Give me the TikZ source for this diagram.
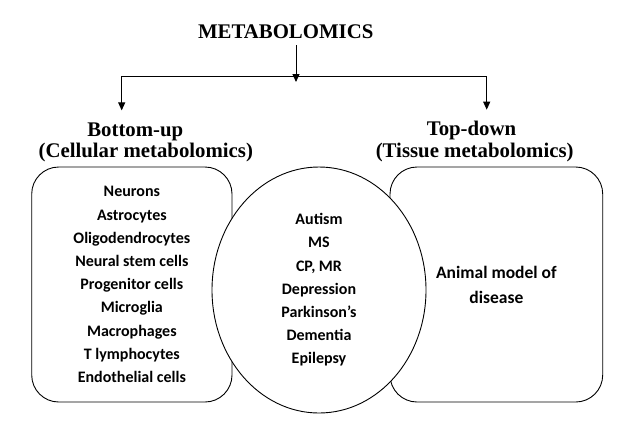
\documentclass[tikz,border=0pt]{standalone}
\usepackage{fontspec}
\setmainfont{Liberation Serif}
\newfontfamily\calibri{Carlito}
\usetikzlibrary{arrows.meta,shapes.geometric}
\begin{document}
\begin{tikzpicture}[x=1pt,y=-1pt,
    heading/.style={font=\bfseries\fontsize{20.8}{21}\selectfont, inner sep=0pt, anchor=base},
    listtext/.style={font=\calibri\bfseries\fontsize{16}{23.2}\selectfont, align=center},
    cellbox/.style={draw, line width=0.9pt, rounded corners=27pt, inner sep=0pt},
    arr/.style={line width=0.9pt, -{Triangle[length=8pt,width=7pt]}}]
  \useasboundingbox (0,0) rectangle (620,432);
  % headings
  \node[heading] (title) at (285.7,38.3) {METABOLOMICS};
  \node[heading] (bottomup) at (135.3,136.7) {Bottom-up};
  \node[heading] (cellular) at (145.8,157.3) {(Cellular metabolomics)};
  \node[heading] (topdown) at (471.5,135.3) {Top-down};
  \node[heading] (tissue) at (474.7,157.3) {(Tissue metabolomics)};
  % branches
  \coordinate (fork) at (296,76);
  \coordinate (stem) at (296,45);
  \coordinate (leftend) at (121.7,76);
  \coordinate (rightend) at (486.7,76);
  \draw[line width=0.9pt] (leftend) -- (rightend);
  \draw[arr] (stem) -- ([yshift=-6pt]fork);
  \draw[arr] (leftend) -- ([yshift=12.5pt]bottomup.north -| leftend);
  \draw[arr] (rightend) -- ([yshift=11pt]topdown.north -| rightend);
  % boxes and circle
  \node[cellbox, listtext, minimum width=200.3pt, minimum height=235pt] (cells) at (131.85,284.5)
    {Neurons\\Astrocytes\\Oligodendrocytes\\Neural stem cells\\Progenitor cells\\Microglia\\Macrophages\\T lymphocytes\\Endothelial cells};
  \node[cellbox, listtext, minimum width=212.7pt, minimum height=235pt,
    font=\calibri\bfseries\fontsize{17.5}{25}\selectfont] (tissuebox) at (496.35,284.5)
    {Animal model of\\disease};
  \node[ellipse, draw, fill=white, line width=0.9pt, listtext, inner sep=0pt,
    minimum width=214pt, minimum height=246pt] (diseases) at (319,290)
    {Autism\\MS\\CP, MR\\Depression\\Parkinson’s\\Dementia\\Epilepsy};
\end{tikzpicture}
\end{document}
